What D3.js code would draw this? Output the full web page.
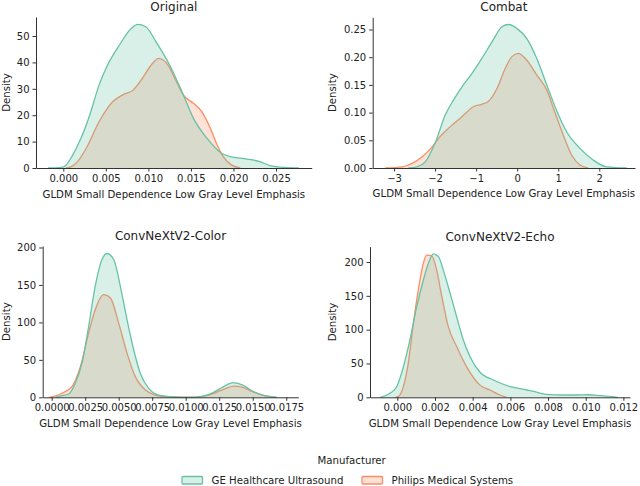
<!DOCTYPE html>
<html>
<head>
<meta charset="utf-8">
<script src="https://cdn.jsdelivr.net/npm/d3@7"></script>
<style>
  body { margin: 0; background: #fff; }
  svg { font-family: "DejaVu Sans", sans-serif; }
  .axis path, .axis line { stroke: #333; stroke-width: 1; }
  .axis text { fill: #222; font-size: 10px; font-family: "DejaVu Sans", sans-serif; }
  .chart-title { font-size: 12px; fill: #222; }
  .axis-title { font-size: 10.2px; fill: #222; }
</style>
</head>
<body>
<svg id="fig" width="640" height="486"></svg>
<script>
// Manufacturers (hue levels)
const manufacturers = ['GE Healthcare Ultrasound', 'Philips Medical Systems'];
const colors = ['#66c2a5', '#fc8d62'];

// Original
const origGeX = [-0.0018, -0.0005, 0.0001, 0.0011, 0.0019, 0.0031, 0.0042, 0.0052, 0.0066, 0.0080, 0.00875, 0.0097, 0.0109, 0.0125, 0.0140, 0.0153, 0.0169, 0.0186, 0.0196, 0.0216, 0.0231, 0.0243, 0.0260, 0.0277];
const origGeY = [0, 0.1, 0.5, 4.9, 10, 20, 31.4, 39, 46.6, 52.9, 54.4, 53.5, 47.8, 39, 28.5, 18.8, 11.2, 5.6, 4.3, 3.4, 2.4, 0.9, 0.2, 0];
const origPhX = [0.0003, 0.0007, 0.0015, 0.0027, 0.0042, 0.0058, 0.0070, 0.0082, 0.0093, 0.0105, 0.0112, 0.0123, 0.0133, 0.0141, 0.0153, 0.0163, 0.0173, 0.0180, 0.0188, 0.0198, 0.0208];
const origPhY = [0, 0.2, 1.8, 7.5, 17.5, 25.1, 27.7, 29.5, 34, 39.7, 41.5, 39, 32.7, 27.7, 24.5, 21.3, 15, 9.4, 4.3, 1.1, 0];

// Combat
const combGeX = [-2.65, -2.44, -2.24, -1.99, -1.75, -1.55, -1.34, -1.10, -0.86, -0.61, -0.37, -0.21, -0.01, 0.23, 0.475, 0.72, 0.96, 1.205, 1.53, 1.85, 2.18, 2.67];
const combGeY = [0, 0.002, 0.011, 0.047, 0.096, 0.123, 0.147, 0.171, 0.198, 0.228, 0.255, 0.259, 0.252, 0.234, 0.198, 0.150, 0.104, 0.0655, 0.0355, 0.0144, 0.002, 0];
const combPhX = [-3.21, -2.80, -2.56, -2.32, -2.07, -1.91, -1.67, -1.34, -1.06, -0.86, -0.69, -0.49, -0.29, -0.13, 0.03, 0.23, 0.475, 0.72, 0.92, 1.12, 1.33, 1.53, 1.73];
const combPhY = [0, 0.002, 0.0085, 0.020, 0.038, 0.054, 0.072, 0.093, 0.111, 0.115, 0.121, 0.144, 0.180, 0.201, 0.207, 0.195, 0.168, 0.141, 0.100, 0.060, 0.023, 0.0054, 0];

// ConvNeXtV2-Color
const colorGeX = [0.0003, 0.00064, 0.00127, 0.00176, 0.00226, 0.00276, 0.00325, 0.00375, 0.00413, 0.00463, 0.00512, 0.00562, 0.00612, 0.00661, 0.00724, 0.00799, 0.0092, 0.0100, 0.0108, 0.0113, 0.0120, 0.0128, 0.01355, 0.0143, 0.0150, 0.0158, 0.0168];
const colorGeY = [0, 1.7, 4.4, 18.8, 45.6, 94.8, 148.5, 184, 192, 184, 148.5, 103.8, 63.5, 32.2, 12, 3, 0.5, 0.1, 0.3, 1.5, 6, 14, 19.6, 16, 8, 2.5, 0];
const colorPhX = [-0.0002, 0.00002, 0.00077, 0.00151, 0.00214, 0.00276, 0.00325, 0.00388, 0.00437, 0.005, 0.00562, 0.00624, 0.00699, 0.00773, 0.0087, 0.0098, 0.0108, 0.0115, 0.0122, 0.0130, 0.01355, 0.0142, 0.0150, 0.0158, 0.0168];
const colorPhY = [0, 0.5, 5.4, 14.2, 41, 86, 117, 137, 133, 99, 59, 27.6, 9.8, 3, 0.5, 0, 0.3, 2, 6, 12, 15, 13.5, 7.5, 2.5, 0];

// ConvNeXtV2-Echo
const echoGeX = [-0.0009, -0.00039, -0.00003, 0.00032, 0.00067, 0.00103, 0.00138, 0.00165, 0.00191, 0.00218, 0.00244, 0.0028, 0.00315, 0.0035, 0.00386, 0.00439, 0.0051, 0.006, 0.00687, 0.0073, 0.0079, 0.0088, 0.0095, 0.0101, 0.0108, 0.0117];
const echoGeY = [0, 6, 15.7, 45, 85, 134, 173, 198, 212, 208, 188, 154, 119, 85, 60, 37, 25.6, 15.7, 10.8, 8.3, 4.4, 3.4, 3.4, 3.8, 2.4, 0];
const echoPhX = [-0.0001, 0.00005, 0.00032, 0.00058, 0.00085, 0.00111, 0.00138, 0.00156, 0.00183, 0.00209, 0.00236, 0.00271, 0.00315, 0.00368, 0.00439, 0.00492, 0.00545, 0.0058];
const echoPhY = [0, 1, 15.7, 50, 109, 158, 198, 210, 209, 188, 149, 104, 75, 45, 18, 10.8, 3.4, 0];

// Tick values
const origXTicks = [0, 0.005, 0.010, 0.015, 0.020, 0.025];
const origYTicks = [0, 10, 20, 30, 40, 50];
const combXTicks = [-3, -2, -1, 0, 1, 2];
const combYTicks = [0, 0.05, 0.10, 0.15, 0.20, 0.25];
const colorXTicks = [0, 0.0025, 0.005, 0.0075, 0.01, 0.0125, 0.015, 0.0175];
const colorYTicks = [0, 50, 100, 150, 200];
const echoXTicks = [0, 0.002, 0.004, 0.006, 0.008, 0.010, 0.012];
const echoYTicks = [0, 50, 100, 150, 200];

const xLabel = 'GLDM Small Dependence Low Gray Level Emphasis';

const zip = (xs, ys) => xs.map((x, i) => ({x: x, y: ys[i]}));

const svg = d3.select('#fig');

function drawPanel(cfg) {
  const g = svg.append('g').attr('transform', `translate(${cfg.left},${cfg.top})`);
  const width = cfg.right - cfg.left;
  const height = cfg.bottom - cfg.top;

  const xScale = d3.scaleLinear().domain(cfg.xDomain).range([0, width]);
  const yScale = d3.scaleLinear().domain(cfg.yDomain).range([height, 0]);

  const area = d3.area()
      .x(d => xScale(d.x))
      .y0(height)
      .y1(d => yScale(d.y))
      .curve(d3.curveMonotoneX);
  const line = d3.line()
      .x(d => xScale(d.x))
      .y(d => yScale(d.y))
      .curve(d3.curveMonotoneX);

  // Philips below, GE on top (seaborn draws hue levels in reverse)
  const layers = [
    {data: zip(cfg.phX, cfg.phY), color: colors[1]},
    {data: zip(cfg.geX, cfg.geY), color: colors[0]}
  ];
  layers.forEach(l => {
    g.append('path')
        .attr('d', area(l.data))
        .attr('fill', l.color)
        .attr('fill-opacity', 0.25);
    g.append('path')
        .attr('d', line(l.data))
        .attr('fill', 'none')
        .attr('stroke', l.color)
        .attr('stroke-width', 1.3);
  });

  const xAxis = d3.axisBottom(xScale)
      .tickValues(cfg.xTicks)
      .tickFormat(d3.format(cfg.xFormat))
      .tickSizeInner(3.5)
      .tickSizeOuter(0)
      .tickPadding(3);
  const yAxis = d3.axisLeft(yScale)
      .tickValues(cfg.yTicks)
      .tickFormat(d3.format(cfg.yFormat))
      .tickSizeInner(3.5)
      .tickSizeOuter(0)
      .tickPadding(3);

  g.append('g')
      .attr('class', 'axis x-axis')
      .attr('transform', `translate(0,${height})`)
      .call(xAxis);
  g.append('g')
      .attr('class', 'axis y-axis')
      .call(yAxis);

  g.append('text')
      .attr('class', 'chart-title')
      .attr('x', width / 2)
      .attr('y', -6)
      .attr('text-anchor', 'middle')
      .text(cfg.title);

  g.append('text')
      .attr('class', 'axis-title')
      .attr('x', width / 2)
      .attr('y', height + 29.5)
      .attr('text-anchor', 'middle')
      .text(xLabel);

  g.append('text')
      .attr('class', 'axis-title')
      .attr('transform', `translate(${cfg.yLabelOffset},${height / 2}) rotate(-90)`)
      .attr('text-anchor', 'middle')
      .attr('dominant-baseline', 'central')
      .text('Density');
}

drawPanel({title: 'Original', left: 36, right: 311.7, top: 17, bottom: 168,
  xDomain: [-0.00321, 0.0292], yDomain: [0, 57.2],
  geX: origGeX, geY: origGeY, phX: origPhX, phY: origPhY,
  xTicks: origXTicks, yTicks: origYTicks, xFormat: '.3f', yFormat: 'd', yLabelOffset: -30});

drawPanel({title: 'Combat', left: 372.7, right: 635, top: 17.3, bottom: 168,
  xDomain: [-3.52, 2.87], yDomain: [0, 0.272],
  geX: combGeX, geY: combGeY, phX: combPhX, phY: combPhY,
  xTicks: combXTicks, yTicks: combYTicks, xFormat: 'd', yFormat: '.2f', yLabelOffset: -40});

drawPanel({title: 'ConvNeXtV2-Color', left: 42.7, right: 298.3, top: 246, bottom: 397.3,
  xDomain: [-0.00067, 0.0184], yDomain: [0, 202],
  geX: colorGeX, geY: colorGeY, phX: colorPhX, phY: colorPhY,
  xTicks: colorXTicks, yTicks: colorYTicks, xFormat: '.4f', yFormat: 'd', yLabelOffset: -36.7});

drawPanel({title: 'ConvNeXtV2-Echo', left: 370, right: 630, top: 246.7, bottom: 397.3,
  xDomain: [-0.00145, 0.01235], yDomain: [0, 222.6],
  geX: echoGeX, geY: echoGeY, phX: echoPhX, phY: echoPhY,
  xTicks: echoXTicks, yTicks: echoYTicks, xFormat: '.3f', yFormat: 'd', yLabelOffset: -37.3});

// Legend
const legend = svg.append('g').attr('class', 'legend');
legend.append('text')
    .attr('class', 'axis-title')
    .attr('x', 351.7)
    .attr('y', 464)
    .attr('text-anchor', 'middle')
    .text('Manufacturer');

const legendX = [182, 362];
manufacturers.forEach((m, i) => {
  legend.append('rect')
      .attr('x', legendX[i])
      .attr('y', 476.5)
      .attr('width', 20.5)
      .attr('height', 7.5)
      .attr('rx', 1)
      .attr('fill', colors[i])
      .attr('fill-opacity', 0.25)
      .attr('stroke', colors[i])
      .attr('stroke-width', 1.3);
  legend.append('text')
      .attr('class', 'axis-title')
      .attr('x', legendX[i] + 29.5)
      .attr('y', 483.8)
      .text(m);
});
</script>
</body>
</html>
